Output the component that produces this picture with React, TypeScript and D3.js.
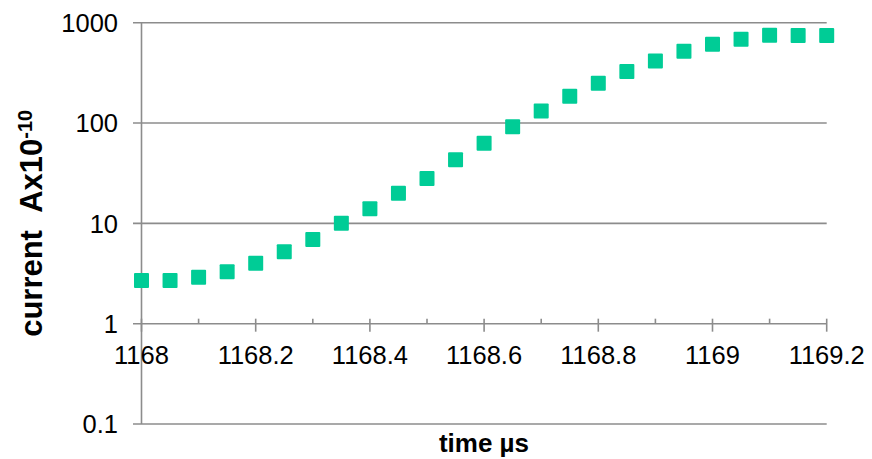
import React from "react";
import * as d3 from "d3";

// Sampling times (µs) and measured current (A x 10^-10)
const times = [
  1168, 1168.05, 1168.1, 1168.15, 1168.2, 1168.25, 1168.3, 1168.35, 1168.4,
  1168.45, 1168.5, 1168.55, 1168.6, 1168.65, 1168.7, 1168.75, 1168.8,
  1168.85, 1168.9, 1168.95, 1169, 1169.05, 1169.1, 1169.15, 1169.2,
];
const currents = [
  2.7, 2.7, 2.9, 3.3, 4.0, 5.2, 6.9, 10, 14, 20, 28, 43, 63, 92, 132, 185,
  249, 327, 415, 519, 609, 684, 749, 745, 745,
];
const xMajorTicks = [1168, 1168.2, 1168.4, 1168.6, 1168.8, 1169, 1169.2];
const xMinorTicks = [1168.1, 1168.3, 1168.5, 1168.7, 1168.9, 1169.1];
const yTicks = [0.1, 1, 10, 100, 1000];

const W = 872;
const H = 459;
const FONT = "'Liberation Sans', Arial, Helvetica, sans-serif";
const GRID = "#8c8c8c";
const MARK = "#00cc96";

export default function App() {
  const x = d3.scaleLinear().domain([1168, 1169.2]).range([141.5, 826.7]);
  const y = d3.scaleLog().domain([0.1, 1000]).range([424, 22.7]);
  const axisY = y(1);
  const fmtY = (v: number) => (v < 1 ? d3.format(".1f")(v) : d3.format("d")(v));
  const fmtX = (v: number) => d3.format("~f")(+v.toFixed(1));
  const size = 15;

  return (
    <svg
      width={W}
      height={H}
      style={{ position: "absolute", left: 0, top: 0, background: "#fff" }}
      fontFamily={FONT}
    >
      {/* horizontal gridlines and y tick marks */}
      {yTicks.map((t) => (
        <line
          key={"g" + t}
          x1={133}
          x2={x(1169.2)}
          y1={y(t)}
          y2={y(t)}
          stroke={GRID}
          strokeWidth={1.6}
        />
      ))}
      {/* y axis line */}
      <line x1={x(1168)} x2={x(1168)} y1={y(1000)} y2={y(0.1)} stroke={GRID} strokeWidth={1.6} />
      {/* x ticks on the axis crossing at y = 1 */}
      {xMajorTicks.map((t) => (
        <line key={"M" + t} x1={x(t)} x2={x(t)} y1={axisY - 5} y2={axisY + 8} stroke={GRID} strokeWidth={1.6} />
      ))}
      {xMinorTicks.map((t) => (
        <line key={"m" + t} x1={x(t)} x2={x(t)} y1={axisY - 5} y2={axisY} stroke={GRID} strokeWidth={1.6} />
      ))}
      {/* y tick labels */}
      {yTicks.map((t) => (
        <text key={"yl" + t} x={118} y={y(t)} dy="0.36em" textAnchor="end" fontSize={25.5} fill="#000">
          {fmtY(t)}
        </text>
      ))}
      {/* x tick labels */}
      {xMajorTicks.map((t) => (
        <text key={"xl" + t} x={x(t)} y={axisY + 40} textAnchor="middle" fontSize={25.5} fill="#000">
          {fmtX(t)}
        </text>
      ))}
      {/* data markers */}
      {times.map((t, i) => (
        <rect
          key={"p" + i}
          x={x(t) - size / 2}
          y={y(currents[i]) - size / 2}
          width={size}
          height={size}
          rx={1}
          fill={MARK}
        />
      ))}
      {/* axis titles */}
      <text x={484} y={452} textAnchor="middle" fontSize={26} fontWeight="bold" fill="#000">
        time µs
      </text>
      <text
        transform={`translate(42, ${(y(1000) + y(0.1)) / 2}) rotate(-90)`}
        textAnchor="middle"
        fontSize={31}
        fontWeight="bold"
        fill="#000"
        style={{ whiteSpace: "pre" }}
      >
        {"current\u00a0\u00a0Ax10"}
        <tspan fontSize={20} dy={-10}>-10</tspan>
      </text>
    </svg>
  );
}
